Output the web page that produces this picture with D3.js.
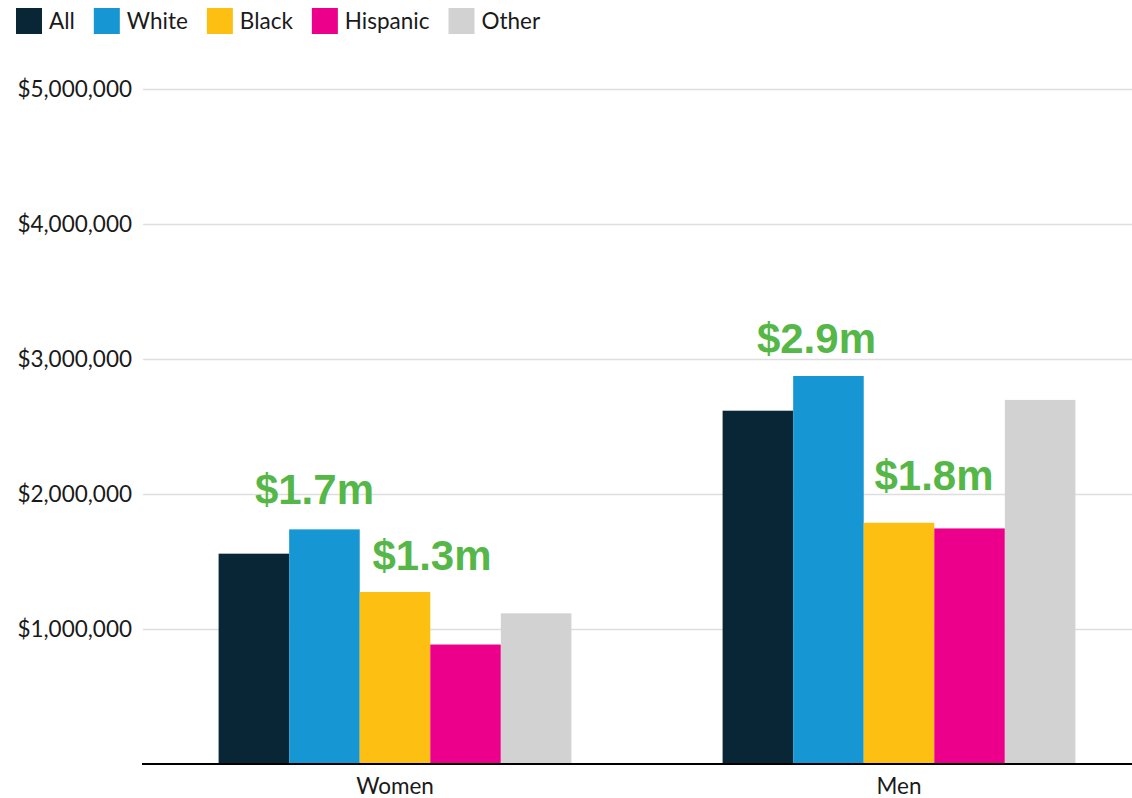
<!DOCTYPE html>
<html>
<head>
<meta charset="utf-8">
<script src="https://cdn.jsdelivr.net/npm/d3@7"></script>
<style>
  body { margin: 0; background: #fff; }
  svg { display: block; font-family: Lato, "Open Sans", sans-serif; }
</style>
</head>
<body>
<div id="chart"></div>
<script>
// Data
var groups = ["Women", "Men"];
var series = ["All", "White", "Black", "Hispanic", "Other"];
var colors = ["#082636", "#1696d2", "#fdbf11", "#ec008b", "#d2d2d2"];
var womenValues = [1558000, 1738000, 1274000, 885000, 1116000];
var menValues = [2617000, 2874000, 1787000, 1745000, 2697000];
var yTicks = [1000000, 2000000, 3000000, 4000000, 5000000];

// callouts: which bar, plus nudges for the label
var callouts = [
  { group: "Women", series: "White", dx: -10, dy: 25 },
  { group: "Women", series: "Black", dx: 37, dy: 22 },
  { group: "Men", series: "White", dx: -12, dy: 23 },
  { group: "Men", series: "Black", dx: 35, dy: 33 }
];

var width = 1132;
var height = 798;
var margin = { top: 89, right: -19, bottom: 34, left: 143 };
var fontSize = "22.5px";

var data = groups.map(function(g, i) {
  var vals = i === 0 ? womenValues : menValues;
  return { group: g, values: series.map(function(s, j) { return { series: s, value: vals[j] }; }) };
});

var svg = d3.select("#chart")
  .append("svg")
  .attr("width", width)
  .attr("height", height);

var xScale = d3.scaleBand()
  .domain(groups)
  .range([margin.left, width - margin.right])
  .paddingInner(0.3)
  .paddingOuter(0.15);

var xInner = d3.scaleBand()
  .domain(series)
  .range([0, xScale.bandwidth()]);

var yScale = d3.scaleLinear()
  .domain([0, 5000000])
  .range([height - margin.bottom, margin.top]);

var color = d3.scaleOrdinal().domain(series).range(colors);

// Gridlines + y labels
var yAxis = d3.axisLeft(yScale)
  .tickValues(yTicks)
  .tickSize(-(width - margin.left))
  .tickPadding(11)
  .tickFormat(function(d) { return "$" + d3.format(",")(d); });

var yg = svg.append("g")
  .attr("transform", "translate(" + margin.left + ",0)")
  .call(yAxis);
yg.select(".domain").remove();
yg.selectAll(".tick line")
  .attr("stroke", "#dedede")
  .attr("stroke-width", 1.5);
yg.selectAll(".tick text")
  .attr("fill", "#1a1a1a")
  .style("font-size", fontSize)
  .style("font-family", "Lato, sans-serif");

// Bars
var groupG = svg.selectAll("g.group")
  .data(data)
  .enter().append("g")
  .attr("class", "group")
  .attr("transform", function(d) { return "translate(" + xScale(d.group) + ",0)"; });

groupG.selectAll("rect")
  .data(function(d) { return d.values; })
  .enter().append("rect")
  .attr("x", function(d) { return xInner(d.series); })
  .attr("width", xInner.bandwidth())
  .attr("y", function(d) { return yScale(d.value); })
  .attr("height", function(d) { return yScale(0) - yScale(d.value); })
  .attr("fill", function(d) { return color(d.series); });

// X axis
var xAxis = d3.axisBottom(xScale).tickSize(0).tickPadding(14);
var xg = svg.append("g")
  .attr("transform", "translate(0," + yScale(0) + ")")
  .call(xAxis);
xg.select(".domain")
  .attr("stroke", "#000")
  .attr("stroke-width", 2)
  .attr("d", "M" + (margin.left - 1) + ",0H" + width);
xg.selectAll(".tick text")
  .attr("fill", "#1a1a1a")
  .style("font-size", fontSize)
  .style("font-family", "Lato, sans-serif");

// Green callouts
callouts.forEach(function(c) {
  var g = data.find(function(d) { return d.group === c.group; });
  var v = g.values.find(function(d) { return d.series === c.series; }).value;
  svg.append("text")
    .attr("x", xScale(c.group) + xInner(c.series) + xInner.bandwidth() / 2 + c.dx)
    .attr("y", yScale(v) - c.dy)
    .attr("text-anchor", "middle")
    .attr("fill", "#55b748")
    .style("font-family", "'Liberation Sans', Arial, sans-serif")
    .style("font-weight", "bold")
    .style("font-size", "42px")
    .text("$" + (v / 1e6).toFixed(1) + "m");
});

// Legend
var legend = svg.append("g").attr("transform", "translate(16,8)");
var lx = 0;
series.forEach(function(s) {
  var item = legend.append("g").attr("transform", "translate(" + lx + ",0)");
  item.append("rect")
    .attr("width", 26)
    .attr("height", 26)
    .attr("fill", color(s));
  var t = item.append("text")
    .attr("x", 33)
    .attr("y", 13)
    .attr("dy", "0.35em")
    .attr("fill", "#1a1a1a")
    .style("font-size", fontSize)
    .text(s);
  lx += 33 + t.node().getComputedTextLength() + 19;
});
</script>
</body>
</html>
